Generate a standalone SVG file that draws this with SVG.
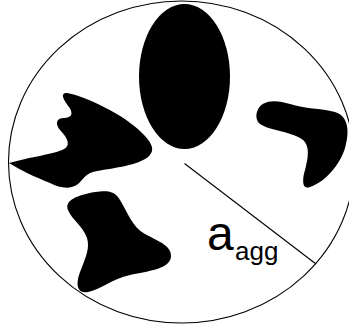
<svg xmlns="http://www.w3.org/2000/svg" width="349" height="329" viewBox="0 0 349 329">
<style>
.outline{fill:none;stroke:#000;stroke-width:1.1}
.blob{fill:#000;stroke:none}
.lbl{font-family:"Liberation Sans",Arial,sans-serif;fill:#000}
</style>
<rect width="349" height="329" fill="#fff"/>
<g id="aggregate">
<ellipse class="outline" cx="181.5" cy="162" rx="173" ry="161"/>
</g>
<g id="ellipse-particle">
<ellipse class="blob" cx="184.5" cy="76.5" rx="45.5" ry="72.5"/>
</g>
<g id="left-particle">
<path class="blob" d="M9,163 C30,157 55,154 64,149 C72,145 66,136 60,130 C55,124 56,118 64,118 C71,118 74,114 69,107 C63,99 60,93 67,93 C85,96 125,115 142,133 C152,143 156,150 148,157 C138,165 115,168 97,171 C85,173 83,180 78,184 C70,190 60,188 50,183 C35,177 20,170 9,163 Z"/>
</g>
<g id="bottom-particle">
<path class="blob" d="M68,210 C64,200 78,195 95,192 C110,190 115,192 120,200 C128,213 133,228 145,234 C160,242 172,246 171,257 C169,268 155,270 130,275 C112,279 100,290 88,292 C76,294 76,283 80,272 C86,257 90,248 87,238 C83,226 72,220 68,210 Z"/>
</g>
<g id="right-particle">
<path class="blob" d="M257,112 C260,100 275,99 290,104 C305,109 320,108 335,112 C348,116 350,130 345,148 C340,165 325,182 310,187 C302,190 302,180 305,170 C309,155 310,143 300,138 C285,130 265,130 258,122 C256,118 256,115 257,112 Z"/>
</g>
<g id="connectors">
<line class="outline" x1="184.5" y1="163.5" x2="316" y2="264"/>
</g>
<g id="label">
<text class="lbl" x="207" y="250" font-size="48">a</text>
<text class="lbl" x="235" y="260" font-size="26">agg</text>
</g>
</svg>
